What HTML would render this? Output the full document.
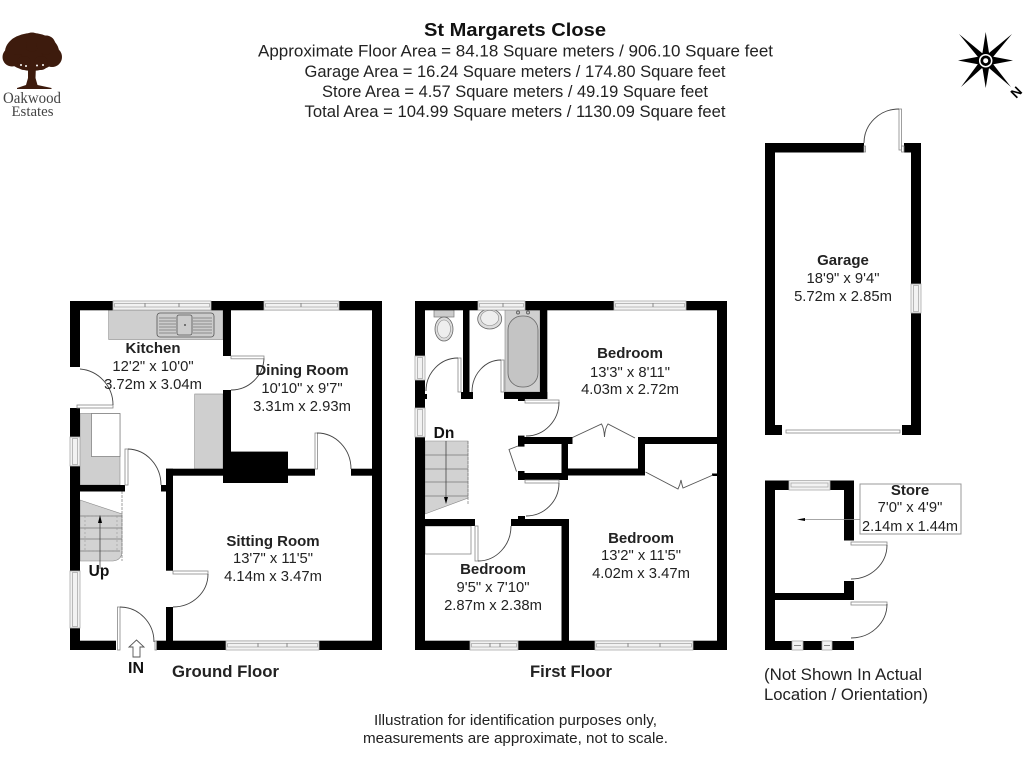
<!DOCTYPE html>
<html lang="en"><head><meta charset="utf-8"><title>St Margarets Close</title>
<style>
html,body{margin:0;padding:0;background:#fff;width:1024px;height:768px;overflow:hidden}
svg{display:block;filter:blur(.35px)}
text{font-family:"Liberation Sans",sans-serif;fill:#222;text-anchor:middle}
.b{font-weight:bold;fill:#111}
.r{font-size:14.8px}
.n{font-size:15px;font-weight:bold;fill:#222}
.h{font-size:16.8px}
.w{fill:#000;stroke:none}
.win{fill:#f2f2f2;stroke:#aaa;stroke-width:.8}
.fr{fill:#fff;stroke:#888;stroke-width:.8}
.arc{fill:none;stroke:#444;stroke-width:.9}
.g{fill:#cfcfcf;stroke:#888;stroke-width:.6}
.t{fill:none;stroke:#777;stroke-width:.7}
.bf{fill:none;stroke:#555;stroke-width:.9}
</style></head><body>
<svg xmlns="http://www.w3.org/2000/svg" width="1024" height="768" viewBox="0 0 1024 768">
<rect width="1024" height="768" fill="#fff"/>

<!-- header -->
<text x="515" y="36" class="b" font-size="18" textLength="182" lengthAdjust="spacingAndGlyphs">St Margarets Close</text>
<text x="515.500" y="56.500" class="h" textLength="515" lengthAdjust="spacingAndGlyphs">Approximate Floor Area = 84.18 Square meters / 906.10 Square feet</text>
<text x="515" y="77" class="h" textLength="421" lengthAdjust="spacingAndGlyphs">Garage Area = 16.24 Square meters / 174.80 Square feet</text>
<text x="515" y="97" class="h" textLength="386" lengthAdjust="spacingAndGlyphs">Store Area = 4.57 Square meters / 49.19 Square feet</text>
<text x="515" y="117" class="h" textLength="421" lengthAdjust="spacingAndGlyphs">Total Area = 104.99 Square meters / 1130.09 Square feet</text>

<!-- logo -->
<g fill="#3d1b0d">
<ellipse cx="32" cy="52" rx="27" ry="19"/>
<circle cx="12" cy="57" r="9.500"/><circle cx="52" cy="57" r="10"/>
<circle cx="32" cy="42" r="9.500"/><circle cx="18" cy="46" r="9"/><circle cx="46" cy="45" r="9.500"/>
<circle cx="24" cy="63" r="7"/><circle cx="41" cy="63" r="7"/>
<path d="M28 64h8l-.5 14 2 7 14 3v1H17v-1l9-3 2-7z"/>
</g>
<g fill="#fff"><circle cx="21" cy="65" r="1"/><circle cx="26" cy="66" r="1"/><circle cx="37" cy="65.500" r="1"/><circle cx="43" cy="65" r="1"/></g>
<text x="32" y="103" font-size="15.500" style="font-family:'Liberation Serif',serif;fill:#444" textLength="58" lengthAdjust="spacingAndGlyphs">Oakwood</text>
<text x="32.500" y="116" font-size="15" style="font-family:'Liberation Serif',serif;fill:#444" textLength="42" lengthAdjust="spacingAndGlyphs">Estates</text>

<!-- compass -->
<g fill="#000">
<polygon points="985.700,32 989.500,56 1013,60.500 989.500,65 985.700,88 982,65 958,60.500 982,56"/>
<polygon points="959,34 982,53 989,53 1012,34 993,57 993,64 1011,87 989,68 982,68 961,87 978,64 978,57"/>
<circle cx="985.700" cy="60.700" r="8.500"/>
</g>
<circle cx="985.700" cy="60.700" r="6" fill="none" stroke="#fff" stroke-width="1.500"/>
<circle cx="985.700" cy="60.700" r="2.500" fill="#fff"/>
<text x="1016" y="97" class="b" font-size="13.500" transform="rotate(-45 1016 92)" style="fill:#000">N</text>

<!-- ground floor -->
<rect class="g" x="108.700" y="310" width="114.300" height="29.500"/>
<rect x="157" y="313" width="57" height="24" rx="3" fill="#ccc" stroke="#555" stroke-width=".8"/>
<rect x="177" y="315" width="15" height="20" rx="2" fill="#ccc" stroke="#555" stroke-width=".8"/>
<path d="M159 318h17M159 321h17M159 324h17M159 327h17M159 330h17M159 333h17M193 318h19M193 321h19M193 324h19M193 327h19M193 330h19M193 333h19" stroke="#777" stroke-width=".7"/>
<circle cx="185" cy="325" r="1" fill="#555"/>
<rect class="g" x="194.700" y="394" width="28.300" height="75"/>
<rect class="g" x="80" y="413.500" width="40" height="71.500"/>
<rect x="91.500" y="413.500" width="28.500" height="43" fill="#fff" stroke="#777" stroke-width=".7"/>
<path d="M80 500L122 514V551Q122 560 113 561H80Z" fill="#d2d2d2" stroke="#888" stroke-width=".6"/>
<path d="M80 516h42M80 528h42M80 539h42M80 551h40" class="t"/>
<rect x="85" y="516" width="32" height="35" fill="none" stroke="#999" stroke-width=".6" stroke-dasharray="2 2"/>
<path d="M122 491v70" class="t" stroke-dasharray="3 1"/>
<path d="M100 522v47" stroke="#444" stroke-width=".8"/>
<polygon points="100,515 98,523 102,523" fill="#000"/>

<g class="w">
<rect x="70" y="301" width="312" height="9.300"/>
<rect x="70" y="301" width="10" height="66"/>
<rect x="70" y="408" width="10" height="29"/>
<rect x="70" y="466" width="10" height="105"/>
<rect x="70" y="628" width="10" height="22"/>
<rect x="372" y="301" width="10" height="349"/>
<rect x="70" y="640.700" width="46" height="9.300"/>
<rect x="156" y="640.700" width="226" height="9.300"/>
<rect x="223" y="310" width="8" height="46"/>
<rect x="223" y="390" width="8" height="62"/>
<rect x="223" y="451.600" width="65" height="31.400"/>
<rect x="166" y="468.700" width="57" height="7"/>
<rect x="288" y="468.700" width="27" height="7"/>
<rect x="351" y="468.700" width="21" height="7"/>
<rect x="166" y="468.700" width="7" height="102"/>
<rect x="166" y="607" width="7" height="34"/>
<rect x="80" y="485" width="45" height="6.500"/>
<rect x="161" y="485" width="5" height="6.500"/>
</g>
<rect class="win" x="113" y="301" width="98" height="9"/>
<rect class="win" x="114.500" y="303.500" width="95" height="3.500"/><path d="M145 303v4M179 303v4" stroke="#888"/>
<rect class="win" x="264" y="301" width="75" height="9"/>
<rect class="win" x="265.500" y="303.500" width="72" height="3.500"/><path d="M301 303v4" stroke="#888"/>
<rect class="win" x="70" y="437" width="10" height="29"/>
<rect class="win" x="72.500" y="438.500" width="5" height="26"/>
<rect class="win" x="70" y="571" width="10" height="57"/>
<rect class="win" x="72.500" y="572.500" width="5" height="54"/>
<rect class="win" x="226" y="641" width="93" height="9"/>
<rect class="win" x="227.500" y="643.500" width="90" height="3.500"/><path d="M258 643v4M287 643v4" stroke="#888"/>

<!-- ground doors -->
<rect class="fr" x="77" y="405" width="36" height="3"/><path class="arc" d="M80 369A36 36 0 0 1 113 405"/>
<rect class="fr" x="231" y="356" width="33" height="2.800"/><path class="arc" d="M264 358.500A33 33 0 0 1 231 390"/>
<rect class="fr" x="125" y="449" width="3" height="36"/><path class="arc" d="M128 449A34 36 0 0 1 161 485"/>
<rect class="fr" x="315" y="433" width="2.500" height="36"/><path class="arc" d="M317 433A34 36 0 0 1 351 469"/>
<rect class="fr" x="173" y="571" width="35" height="3"/><path class="arc" d="M208 574A35 33 0 0 1 173 607"/>
<rect class="fr" x="117.500" y="607" width="2.500" height="43"/><rect class="fr" x="155" y="641" width="1.500" height="9"/><path class="arc" d="M120 607A34 35 0 0 1 154 642"/>
<polygon points="136.500,640 144,647 140,647 140,657 133,657 133,647 129,647" fill="#fff" stroke="#555" stroke-width=".9"/>

<text x="153" y="353" class="n">Kitchen</text><text x="153" y="371" class="r">12'2" x 10'0"</text><text x="153" y="389" class="r">3.72m x 3.04m</text>
<text x="302" y="375" class="n">Dining Room</text><text x="302" y="393" class="r">10'10" x 9'7"</text><text x="302" y="411" class="r">3.31m x 2.93m</text>
<text x="273" y="546" class="n">Sitting Room</text><text x="273" y="563" class="r">13'7" x 11'5"</text><text x="273" y="581" class="r">4.14m x 3.47m</text>
<text x="99" y="576" class="b" font-size="15.500">Up</text>
<text x="136" y="673" class="b" font-size="16">IN</text>
<text x="225.500" y="677" class="b" font-size="16.500" style="fill:#222" textLength="107" lengthAdjust="spacingAndGlyphs">Ground Floor</text>

<!-- first floor fittings -->
<rect class="g" x="505" y="310" width="35" height="82"/>
<rect x="508" y="316" width="30" height="71" rx="14" fill="#c4c4c4" stroke="#666" stroke-width=".8"/>
<circle cx="518" cy="312.500" r="1.500" fill="none" stroke="#666"/><circle cx="528" cy="312.500" r="1.500" fill="none" stroke="#666"/>
<ellipse cx="489.700" cy="319" rx="12" ry="10" fill="#ddd" stroke="#666" stroke-width=".8"/>
<ellipse cx="489.700" cy="318" rx="9" ry="7.500" fill="#eee" stroke="#888" stroke-width=".6"/>
<rect x="434" y="310" width="20" height="7" fill="#ccc" stroke="#777" stroke-width=".7"/>
<ellipse cx="444" cy="329" rx="9" ry="12" fill="#ddd" stroke="#666" stroke-width=".8"/>
<ellipse cx="444" cy="329" rx="6.500" ry="9" fill="#eee" stroke="#888" stroke-width=".6"/>
<polygon points="425,441 468,441 468,498 425,514" fill="#d2d2d2" stroke="#888" stroke-width=".6"/>
<path d="M425 455h43M425 469h43M425 482h43M425 496h43" class="t"/>
<path d="M446 441v60" stroke="#444" stroke-width=".8"/><polygon points="446,504 444,497 448,497" fill="#000"/>
<path d="M468 441v64" class="t" stroke-dasharray="3 1"/>
<rect x="425" y="526" width="46" height="28" fill="#fff" stroke="#888" stroke-width=".8"/>

<g class="w">
<rect x="415" y="301" width="312" height="9.300"/>
<rect x="415" y="301" width="10" height="55"/>
<rect x="415" y="380" width="10" height="28"/>
<rect x="425" y="394" width="2" height="5"/>
<rect x="415" y="437" width="10" height="213"/>
<rect x="717" y="301" width="10" height="349"/>
<rect x="415" y="640.700" width="312" height="9.300"/>
<rect x="463" y="310" width="6.500" height="89"/>
<rect x="461" y="392" width="12" height="7"/>
<rect x="540" y="310" width="7.300" height="89"/>
<rect x="504" y="392" width="43.300" height="7"/>
<rect x="518" y="399" width="7" height="2"/>
<rect x="518" y="437" width="54.500" height="7"/>
<rect x="518" y="435.600" width="6.500" height="11"/>
<rect x="638" y="437" width="79" height="7"/>
<rect x="561.500" y="444" width="6.500" height="26"/>
<rect x="638" y="437" width="7" height="38"/>
<rect x="561.500" y="468.500" width="83.500" height="7"/>
<rect x="518" y="473" width="50" height="7"/>
<rect x="518" y="471" width="6.500" height="9"/>
<rect x="712" y="473.500" width="5" height="2.500"/>
<rect x="425" y="519" width="50" height="7"/>
<rect x="511" y="519" width="58" height="7"/>
<rect x="518" y="516" width="7" height="3"/>
<rect x="561.500" y="519" width="7.500" height="131"/>
</g>
<rect class="win" x="478" y="301" width="47" height="9"/>
<rect class="win" x="479.500" y="303.500" width="44" height="3.500"/><path d="M503 303v4" stroke="#888"/>
<rect class="win" x="614" y="301" width="72" height="9"/>
<rect class="win" x="615.500" y="303.500" width="69" height="3.500"/><path d="M653 303v4" stroke="#888"/>
<rect class="win" x="415" y="356" width="10" height="24"/>
<rect class="win" x="417.500" y="357.500" width="5" height="21"/>
<rect class="win" x="415" y="408" width="10" height="29"/>
<rect class="win" x="417.500" y="409.500" width="5" height="26"/>
<rect class="win" x="470" y="641" width="48" height="9"/>
<rect class="win" x="471.500" y="643.500" width="45" height="3.500"/><path d="M490 643v4M500 643v4" stroke="#888"/>
<rect class="win" x="595" y="641" width="98" height="9"/>
<rect class="win" x="596.500" y="643.500" width="95" height="3.500"/><path d="M628 643v4M660 643v4" stroke="#888"/>

<!-- first doors -->
<rect class="fr" x="458" y="358" width="3" height="34"/><path class="arc" d="M458 358A32 33 0 0 0 426 391"/>
<rect class="fr" x="501" y="360" width="3" height="32"/><path class="arc" d="M501 360A29 32 0 0 0 472 392"/>
<rect class="fr" x="525" y="400" width="34" height="3"/><path class="arc" d="M559 402A33 34 0 0 1 526 436"/>
<rect class="fr" x="525" y="480" width="34" height="3"/><path class="arc" d="M559 483A33 33 0 0 1 526 516"/>
<rect class="fr" x="475" y="526" width="3" height="35"/><path class="arc" d="M478 561A33 35 0 0 0 511 526"/>
<path class="bf" d="M518 446L509 449.500L516.500 471.500M572.500 437.500L601.500 424Q604 428 604.500 437Q605 428 608 424L635 438"/>
<path class="bf" d="M645.500 472L678 489Q680 485 681 480Q682 485 683 488L713 475"/>

<text x="630" y="358" class="n">Bedroom</text><text x="630" y="377" class="r">13'3" x 8'11"</text><text x="630" y="394" class="r">4.03m x 2.72m</text>
<text x="641" y="543" class="n">Bedroom</text><text x="641" y="560" class="r">13'2" x 11'5"</text><text x="641" y="578" class="r">4.02m x 3.47m</text>
<text x="493" y="574" class="n">Bedroom</text><text x="493" y="592" class="r">9'5" x 7'10"</text><text x="493" y="610" class="r">2.87m x 2.38m</text>
<text x="444" y="438" class="b" font-size="15.500">Dn</text>
<text x="571" y="677" class="b" font-size="16.500" style="fill:#222" textLength="82" lengthAdjust="spacingAndGlyphs">First Floor</text>

<!-- garage -->
<g class="w">
<rect x="765" y="143" width="99" height="9.500"/>
<rect x="904" y="143" width="17" height="9.500"/>
<rect x="765" y="143" width="10" height="292"/>
<rect x="911" y="143" width="10" height="141"/>
<rect x="911" y="313" width="10" height="122"/>
<rect x="765" y="425" width="17" height="10"/>
<rect x="902" y="425" width="19" height="10"/>
</g>
<rect class="win" x="911" y="284" width="10" height="29"/>
<rect class="win" x="913.500" y="285.500" width="5" height="26"/>
<rect class="fr" x="786" y="430" width="114" height="3"/>
<rect class="fr" x="899" y="109" width="2.500" height="41"/>
<rect class="fr" x="864" y="146" width="1.500" height="6"/><rect class="fr" x="901.500" y="146" width="2.500" height="6"/>
<path class="arc" d="M899 109A35 34 0 0 0 864 143"/>
<text x="843" y="265" class="n">Garage</text><text x="843" y="283" class="r">18'9" x 9'4"</text><text x="843" y="301" class="r">5.72m x 2.85m</text>

<!-- store -->
<g class="w">
<rect x="765" y="480.500" width="10" height="169.500"/>
<rect x="765" y="480.500" width="24" height="9.500"/>
<rect x="830" y="480.500" width="24" height="9.500"/>
<rect x="844" y="480.500" width="10" height="60"/>
<rect x="844" y="581" width="10" height="19"/>
<rect x="775" y="593" width="79" height="7"/>
<rect x="765" y="641" width="27" height="9"/>
<rect x="803" y="641" width="19" height="9"/>
<rect x="832" y="641" width="22" height="9"/>
</g>
<rect class="win" x="789" y="480.500" width="41" height="9.500"/>
<rect class="win" x="791" y="483" width="37" height="4"/>
<rect class="win" x="792" y="641" width="11" height="9"/><path d="M794 645.500h7" stroke="#888"/>
<rect class="win" x="822" y="641" width="10" height="9"/><path d="M824 645.500h6" stroke="#888"/>
<rect class="fr" x="851" y="542" width="36" height="3"/><path class="arc" d="M887 545A36 34 0 0 1 851 579"/>
<rect class="fr" x="851" y="602" width="36" height="3"/><path class="arc" d="M887 604A36 34 0 0 1 851 638"/>
<rect x="860" y="484" width="101" height="50" fill="#fff" stroke="#999" stroke-width="1"/>
<path d="M805 519.500H860" stroke="#888" stroke-width=".8"/>
<polygon points="797,519.500 805,518 805,521" fill="#000"/>
<text x="910" y="495" class="n">Store</text><text x="910" y="512" class="r">7'0" x 4'9"</text><text x="910" y="531" class="r" textLength="96" lengthAdjust="spacingAndGlyphs">2.14m x 1.44m</text>

<!-- notes -->
<text x="764" y="680" font-size="16.500" style="text-anchor:start" textLength="158" lengthAdjust="spacingAndGlyphs">(Not Shown In Actual</text>
<text x="764" y="700" font-size="16.500" style="text-anchor:start" textLength="164" lengthAdjust="spacingAndGlyphs">Location / Orientation)</text>
<text x="515.500" y="725" font-size="15" textLength="283" lengthAdjust="spacingAndGlyphs">Illustration for identification purposes only,</text>
<text x="515.500" y="743" font-size="15" textLength="305" lengthAdjust="spacingAndGlyphs">measurements are approximate, not to scale.</text>
</svg>
</body></html>
